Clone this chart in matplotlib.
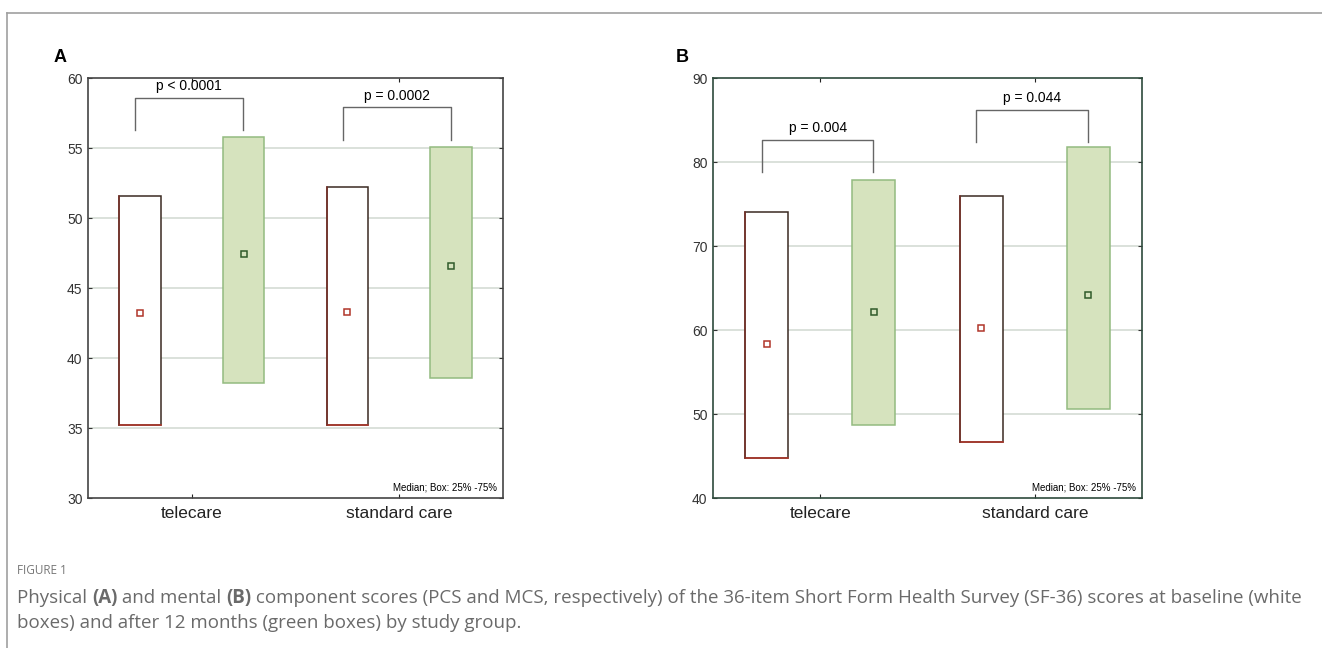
import matplotlib.pyplot as plt
import matplotlib
from matplotlib import font_manager
from matplotlib.patches import Rectangle
from matplotlib.lines import Line2D

names = {f.name for f in font_manager.fontManager.ttflist}
narrow = 'Liberation Sans Narrow' if 'Liberation Sans Narrow' in names else 'Liberation Sans'
matplotlib.rcParams['font.family'] = [narrow, 'DejaVu Sans']

# 데이터 (25%, 75%, 중앙값)
groups = ['telecare', 'standard care']
pcs_q1_base = [35.2, 35.2]
pcs_q3_base = [51.6, 52.2]
pcs_med_base = [43.2, 43.3]
pcs_q1_12m = [38.2, 38.6]
pcs_q3_12m = [55.8, 55.1]
pcs_med_12m = [47.4, 46.6]
pcs_p = ['p < 0.0001', 'p = 0.0002']
pcs_bracket_top = [58.6, 57.9]
pcs_bracket_leg = [56.3, 55.6]

mcs_q1_base = [44.8, 46.7]
mcs_q3_base = [74.0, 75.9]
mcs_med_base = [58.3, 60.2]
mcs_q1_12m = [48.7, 50.6]
mcs_q3_12m = [77.9, 81.8]
mcs_med_12m = [62.2, 64.2]
mcs_p = ['p = 0.004', 'p = 0.044']
mcs_bracket_top = [82.6, 86.2]
mcs_bracket_leg = [78.8, 82.4]

W, H = 1322, 648
fig = plt.figure(figsize=(W / 100, H / 100), dpi=100)

# 바깥 테두리
fig.add_artist(Line2D([7 / W, 1], [1 - 13 / H, 1 - 13 / H], color='#a0a0a0', lw=1.2))
fig.add_artist(Line2D([7 / W, 7 / W], [0, 1 - 13 / H], color='#a0a0a0', lw=1.2))


def panel(rect, letter, letter_x, ylim, yticks, q1b, q3b, mb, q1a, q3a, ma, ptxt, btop, bleg, spine_col):
    ax = fig.add_axes(rect)
    ax.set_xlim(0, 2)
    ax.set_ylim(*ylim)
    ax.set_yticks(yticks)
    ax.set_xticks([0.5, 1.5])
    ax.set_xticklabels(groups, fontsize=12.5)
    ax.tick_params(axis='y', labelsize=10, direction='in', length=3, right=True, pad=4, colors='#333333')
    ax.tick_params(axis='x', direction='in', length=3, top=True, pad=6, colors='#222222')
    for s in ax.spines.values():
        s.set_color(spine_col)
        s.set_linewidth(1.2)
    for t in yticks[1:-1]:
        ax.axhline(t, color='#d4dbd4', lw=1.2, zorder=0)
    w = 0.2
    for i in range(2):
        xb = i + 0.25
        xa = i + 0.75
        ax.add_patch(Rectangle((xb - w / 2, q1b[i]), w, q3b[i] - q1b[i], facecolor='white',
                               edgecolor='#3a2a22', lw=1.1, zorder=2))
        ax.plot([xb - w / 2, xb + w / 2], [q1b[i], q1b[i]], color='#b03a2e', lw=1.2, zorder=3)
        ax.plot([xb - w / 2, xb - w / 2], [q1b[i], q3b[i]], color='#7a3028', lw=1.1, zorder=3)
        ax.add_patch(Rectangle((xa - w / 2, q1a[i]), w, q3a[i] - q1a[i], facecolor='#d6e3be',
                               edgecolor='#93bb80', lw=1.1, zorder=2))
        ax.plot(xb, mb[i], 's', ms=5, mfc='white', mec='#b0362a', mew=1.1, zorder=4)
        ax.plot(xa, ma[i], 's', ms=5, mfc='#d6e3be', mec='#2f5a2a', mew=1.1, zorder=4)
        # 괄호
        lx = i + 0.228
        rx = i + 0.747
        ax.plot([lx, lx, rx, rx], [bleg[i], btop[i], btop[i], bleg[i]], color='#666666', lw=1.0)
        ax.annotate(ptxt[i], ((lx + rx) / 2, btop[i]), xytext=(0, 8.5), textcoords='offset points',
                    ha='center', va='center', fontsize=10)
    ax.text(0.985, 0.012, 'Median; Box: 25% -75%', transform=ax.transAxes, ha='right', va='bottom', fontsize=7)
    fig.text(letter_x / W, 1 - 58 / H, letter, fontsize=13, fontweight='bold', ha='center', va='center',
             family='Liberation Sans')
    return ax


panel([88 / W, 1 - 498 / H, 415 / W, 420 / H], 'A', 60, (30, 60), [30, 35, 40, 45, 50, 55, 60],
      pcs_q1_base, pcs_q3_base, pcs_med_base, pcs_q1_12m, pcs_q3_12m, pcs_med_12m,
      pcs_p, pcs_bracket_top, pcs_bracket_leg, '#444444')
panel([713 / W, 1 - 498 / H, 429 / W, 420 / H], 'B', 682, (40, 90), [40, 50, 60, 70, 80, 90],
      mcs_q1_base, mcs_q3_base, mcs_med_base, mcs_q1_12m, mcs_q3_12m, mcs_med_12m,
      mcs_p, mcs_bracket_top, mcs_bracket_leg, '#2e4a3c')

# 캡션
fig.text(17 / W, 1 - 571 / H, 'FIGURE 1', fontsize=8.5, color='#777777', family='Open Sans', va='center')
cap_col = '#6a6a6a'
segs1 = [('Physical ', 'normal'), ('(A)', 'bold'), (' and mental ', 'normal'), ('(B)', 'bold'),
         (' component scores (PCS and MCS, respectively) of the 36-item Short Form Health Survey (SF-36) scores at baseline (white', 'normal')]
fig.canvas.draw()
r = fig.canvas.get_renderer()
x = 17
for s, wgt in segs1:
    t = fig.text(x / W, 1 - 598 / H, s, fontsize=13.5, color=cap_col, family='Open Sans', fontweight=wgt, va='center')
    x += t.get_window_extent(r).width
fig.text(17 / W, 1 - 623 / H, 'boxes) and after 12 months (green boxes) by study group.', fontsize=13.5,
         color=cap_col, family='Open Sans', va='center')

fig.savefig('out.png', dpi=100)
